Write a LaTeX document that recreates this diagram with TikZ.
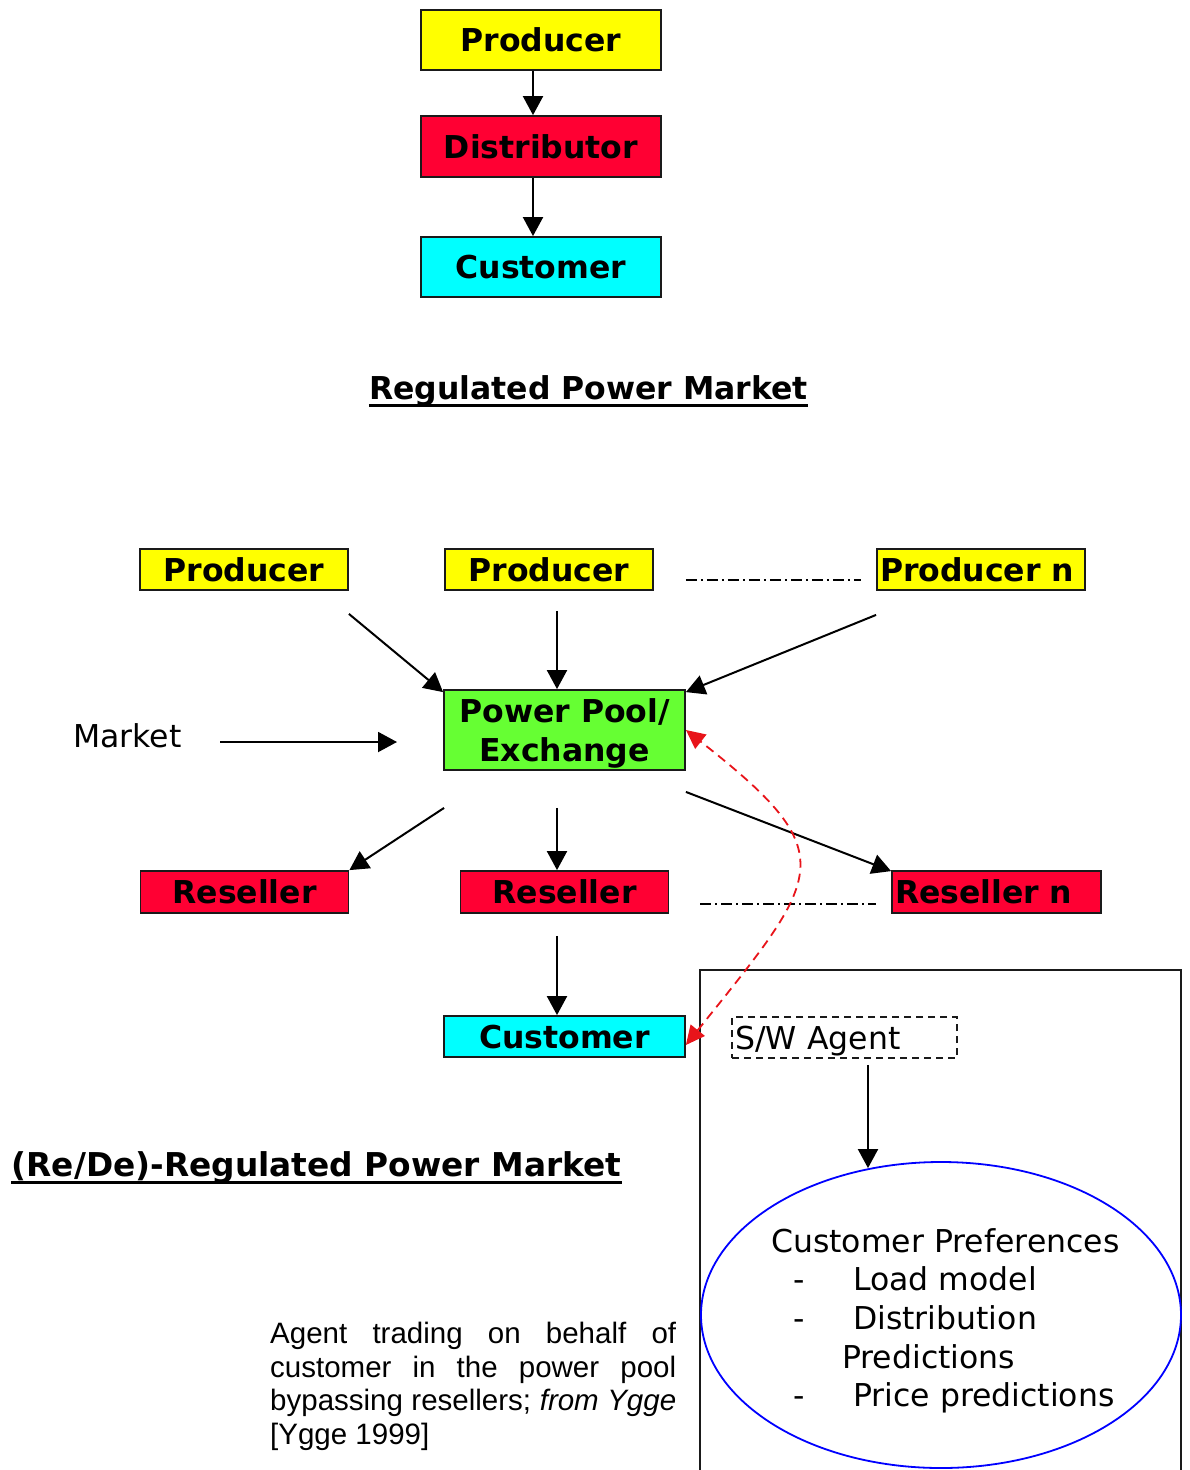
\documentclass[tikz,border=0pt]{standalone}
\usepackage{fontspec}
\setmainfont{DejaVu Sans}
\newfontfamily\capfont{Liberation Sans}
\usetikzlibrary{arrows.meta,shapes.geometric}
\definecolor{pyellow}{HTML}{FFFF00}
\definecolor{pred}{HTML}{FF0033}
\definecolor{pcyan}{HTML}{00FFFF}
\definecolor{pgreen}{HTML}{66FF33}
\definecolor{redline}{HTML}{E8141A}
\definecolor{edge}{HTML}{1A1A1A}
\begin{document}
\begin{tikzpicture}[x=1pt,y=-1pt,
  bigfont/.style={font=\fontsize{31.5}{38.7}\selectfont},
  boldfont/.style={font=\bfseries\fontsize{31.5}{38.7}\selectfont},
  capfix/.style={text height=23pt, text depth=0pt},
  cbox/.style={draw=edge, line width=1.8pt, inner sep=0pt, boldfont},
  topbox/.style={cbox, capfix, minimum width=240pt, minimum height=60pt},
  smallbox/.style={cbox, capfix, minimum width=208pt, minimum height=41pt},
  leftbox/.style={smallbox, text width=202pt, align=left, inner xsep=3pt},
  arr/.style={line width=2pt, -{Triangle[length=19pt,width=20pt]}},
  dashdot/.style={line width=1.8pt, dash pattern=on 11pt off 4pt on 2pt off 4pt},
  title/.style={boldfont, anchor=base, inner sep=0pt},
]
\useasboundingbox (0,0) rectangle (1189,1470);

% ---------- Regulated market ----------
\node[topbox, fill=pyellow] (prod) at (541,40) {Producer};
\node[topbox, fill=pred, minimum height=61pt] (dist) at (541,146.5) {Distributor};
\node[topbox, fill=pcyan] (cust) at (541,267) {Customer};
\draw[arr] ([xshift=-8pt]prod.south) -- ([xshift=-8pt]dist.north);
\draw[arr] ([xshift=-8pt]dist.south) -- ([xshift=-8pt]cust.north);

\node[title] (t1) at (588.5,399) {Regulated Power Market};
\draw[line width=3pt] ([yshift=-6pt]t1.base west) -- ([yshift=-6pt]t1.base east);

% ---------- (Re/De)-regulated market ----------
\node[smallbox, fill=pyellow] (p1) at (244,569.5) {Producer};
\node[smallbox, fill=pyellow] (p2) at (549,569.5) {Producer};
\node[leftbox, fill=pyellow] (pn) at (981,569.5) {Producer n};
\draw[dashdot] ([xshift=32pt,yshift=-10.5pt]p2.east) -- ([xshift=-15pt,yshift=-10.5pt]pn.west);

\node[cbox, fill=pgreen, minimum width=241pt, minimum height=80pt, align=center, text depth=0pt] (pool) at (564.5,730) {Power Pool/\\Exchange};

\draw[arr] ([yshift=-23pt]p1.south east) -- ([yshift=-3pt]pool.north west);
\draw[arr] ([xshift=8pt,yshift=-20pt]p2.south) -- ([xshift=-7.5pt]pool.north);
\draw[arr] ([yshift=-24pt]pn.south west) -- ([yshift=-3pt]pool.north east);

\node[bigfont, anchor=base west, inner sep=0pt] (market) at (73,747) {Market};
\coordinate (mstart) at (220,742);
\coordinate (mend) at (397,742);
\draw[arr] (mstart) -- (mend);

\node[smallbox, fill=pred, minimum height=42pt] (r1) at (244.5,892) {Reseller};
\node[smallbox, fill=pred, minimum height=42pt] (r2) at (564.5,892) {Reseller};
\node[leftbox, fill=pred, minimum height=42pt, text width=203pt] (rn) at (996.5,892) {Reseller n};
\draw[dashdot] ([xshift=31pt,yshift=-12pt]r2.east) -- ([xshift=-15pt,yshift=-12pt]rn.west);

\draw[arr] ([xshift=1pt,yshift=-37pt]pool.south west) -- (r1.north east);
\draw[arr] ([xshift=-7.5pt,yshift=-37pt]pool.south) -- ([xshift=-7.5pt]r2.north);
\draw[arr] ([yshift=-21pt]pool.south east) -- ([yshift=-1pt]rn.north west);

\node[cbox, capfix, fill=pcyan, minimum width=241pt, minimum height=41pt] (cust2) at (564.5,1036.5) {Customer};
\draw[arr] ([xshift=-7.5pt,yshift=-22pt]r2.south) -- ([xshift=-7.5pt]cust2.north);

\node[title, font=\bfseries\fontsize{32.8}{38.7}\selectfont] (t2) at (316.5,1176) {(Re/De)-Regulated Power Market};
\draw[line width=3pt] ([yshift=-6pt]t2.base west) -- ([yshift=-6pt]t2.base east);

% ---------- agent panel ----------
\draw[line width=1.8pt, draw=edge] (700,1475) -- (700,970) -- (1181,970) -- (1181,1475);

\node[draw=edge, line width=1.8pt, dash pattern=on 7pt off 5pt, minimum height=41pt,
      text width=219pt, inner xsep=3pt, inner ysep=0pt, align=left, bigfont, capfix] (agent) at (844.5,1037.5) {S/W Agent};

\node[ellipse, draw=blue, line width=1.8pt, minimum width=480pt, minimum height=306pt, inner sep=0pt] (prefs) at (941,1315) {};
\node[bigfont, align=left, anchor=north west, inner sep=0pt] (prefstext) at (771,1228)
  {Customer Preferences\\
   \makebox[82pt][l]{\hspace*{22pt}-}Load model\\
   \makebox[82pt][l]{\hspace*{22pt}-}Distribution\\
   \hspace*{71pt}Predictions\\
   \makebox[82pt][l]{\hspace*{22pt}-}Price predictions};

\coordinate (astart) at ([xshift=23.5pt,yshift=-6pt]agent.south);
\draw[arr] (astart) -- (astart |- prefs.116.6);

\draw[redline, line width=1.8pt, dash pattern=on 9pt off 6pt,
      {Triangle[length=19pt,width=18pt]}-{Triangle[length=19pt,width=18pt]}]
  ([yshift=-8.5pt]cust2.east) .. controls (823,874) and (845,855) .. (pool.east);

% ---------- caption ----------
\node[font=\capfont\fontsize{29.5}{33.7}\selectfont, text width=406pt, align=justify,
      anchor=north west, inner sep=0pt] (caption) at (270,1322)
  {Agent trading on behalf of\linebreak customer in the power pool\linebreak bypassing resellers; \textit{from Ygge}\linebreak {[}Ygge 1999]};
\end{tikzpicture}
\end{document}
